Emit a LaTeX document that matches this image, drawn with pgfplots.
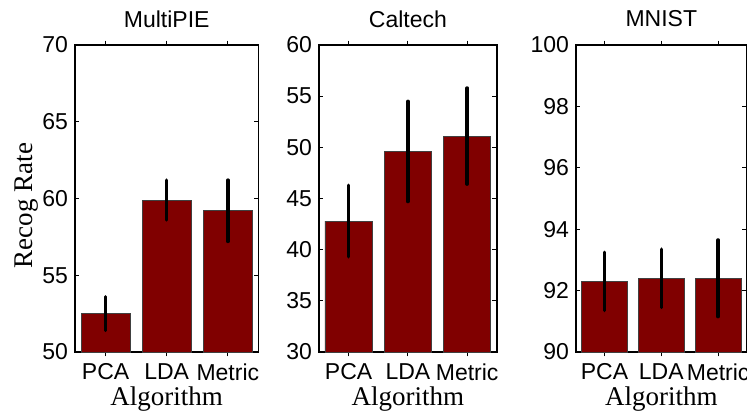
\documentclass[border=0pt]{standalone}
\usepackage{fontspec}
\setmainfont{Liberation Sans}
\newfontfamily\timesfont{Liberation Serif}
\usepackage{pgfplots}
\pgfplotsset{compat=1.18}
\definecolor{barred}{RGB}{128,0,0}
\pgfplotsset{
  panel/.style={
    scale only axis, height=153.5pt, anchor=south west,
    xmin=0.5, xmax=3.5, xtick={1,2,3}, xticklabels={PCA,LDA,Metric},
    tick align=inside, major tick length=2.2pt,
    axis line style={line width=0.7pt},
    every tick/.style={black, line width=0.5pt},
    tick label style={font=\fontsize{11.5}{12}\selectfont},
    /pgf/number format/assume math mode=true,
    title style={font=\fontsize{11.5}{12}\selectfont, at={(axis description cs:0.5,1)}, anchor=base, yshift=3pt},
    xlabel={Algorithm},
    xlabel style={font=\fontsize{13.5}{14}\selectfont\timesfont, at={(axis description cs:0.5,0)}, anchor=base, yshift=-26.5pt},
    ybar, bar width=0.8,
    error bars/y dir=both, error bars/y explicit,
    error bars/error mark=none,
    error bars/error bar style={line width=1.7pt, black, line cap=round},
  },
  bars/.style={fill=barred, draw=black!75, line width=0.4pt},
}
\begin{document}
\begin{tikzpicture}
\path[use as bounding box] (0,0) rectangle (373.5pt,206pt);
\begin{axis}[panel, at={(37.5pt,30pt)}, width=91.7pt,
  title={MultiPIE}, ymin=50, ymax=70, ytick={50,55,60,65,70},
  ylabel={Recog Rate},
  ylabel style={font=\fontsize{13.5}{14}\selectfont\timesfont, at={(axis description cs:0,0.477)}, anchor=base, yshift=21pt}]
\addplot[bars] coordinates {(1,52.5) +- (0,1.1) (2,59.9) +- (0,1.3) (3,59.2) +- (0,2.0)};
\end{axis}
\begin{axis}[panel, at={(159.5pt,30pt)}, width=88.9pt,
  title={Caltech}, ymin=30, ymax=60, ytick={30,35,40,45,50,55,60}]
\addplot[bars] coordinates {(1,42.8) +- (0,3.5) (2,49.6) +- (0,4.9) (3,51.1) +- (0,4.7)};
\end{axis}
\begin{axis}[panel, at={(288pt,30pt)}, width=85.3pt,
  title={MNIST}, ymin=90, ymax=100, ytick={90,92,94,96,98,100}]
\addplot[bars] coordinates {(1,92.3) +- (0,0.95) (2,92.4) +- (0,0.95) (3,92.4) +- (0,1.25)};
\end{axis}
\end{tikzpicture}
\end{document}
